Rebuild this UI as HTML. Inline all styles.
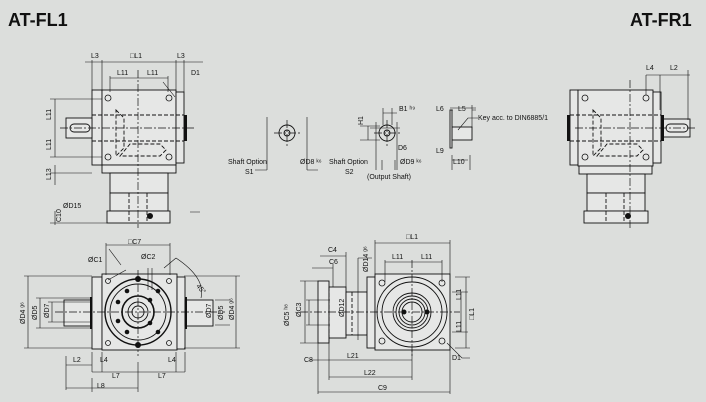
<!DOCTYPE html><html><head><style>body{margin:0;background:#dcdedc}svg{display:block}text{font-family:"Liberation Sans",sans-serif;font-size:7px;fill:#111}.t{font-size:18px;font-weight:bold}</style></head><body>
<svg width="706" height="402" viewBox="0 0 706 402" xmlns="http://www.w3.org/2000/svg">
<rect width="706" height="402" fill="#dcdedc"/>
<text x="8" y="26" class="t">AT-FL1</text><text x="630" y="26" class="t">AT-FR1</text>
<g fill="#e6e7e6" stroke="#111" stroke-width="0.9">
<rect x="92" y="90" width="10" height="75"/><rect x="102" y="90" width="74" height="75"/><rect x="176" y="92" width="8" height="71"/>
<rect x="66" y="118" width="26" height="20"/><rect x="70" y="124" width="20" height="8" rx="4"/>
<rect x="102" y="165" width="74" height="8"/><rect x="110" y="173" width="58" height="20"/><rect x="110" y="193" width="58" height="18"/><rect x="107" y="211" width="63" height="12"/>
<rect x="570" y="90" width="8" height="75"/><rect x="578" y="90" width="75" height="76"/><rect x="653" y="92" width="8" height="71"/>
<rect x="662" y="119" width="28" height="18"/><rect x="666" y="124" width="22" height="8" rx="4"/>
<rect x="579" y="166" width="73" height="8"/><rect x="587" y="174" width="58" height="19"/><rect x="587" y="193" width="58" height="18"/><rect x="584" y="211" width="64" height="12"/>
<rect x="64" y="300" width="28" height="26"/><rect x="92" y="277" width="10" height="72"/><rect x="102" y="274" width="75" height="76"/><rect x="177" y="277" width="8" height="72"/><rect x="185" y="300" width="28" height="26"/>
<rect x="318" y="281" width="11" height="62"/><rect x="329" y="287" width="17" height="51"/><rect x="346" y="292" width="21" height="43"/><rect x="367" y="277" width="8" height="71"/><rect x="375" y="274" width="75" height="76"/>
<rect x="452" y="127" width="20" height="13"/><rect x="450" y="110" width="2" height="38"/>
</g>
<g fill="#111">
<rect x="184" y="115" width="3" height="26"/><rect x="567" y="115" width="3" height="26"/><rect x="661" y="115" width="3" height="26"/>
<rect x="90" y="297" width="2" height="32"/><rect x="185" y="297" width="2" height="32"/>
<circle cx="150" cy="216" r="3"/><circle cx="628" cy="216" r="3"/>
<circle cx="138" cy="279" r="3"/><circle cx="138" cy="345" r="3"/>
<circle cx="127" cy="291" r="2.3"/><circle cx="118" cy="302" r="2.3"/><circle cx="118" cy="321" r="2.3"/><circle cx="127" cy="332" r="2.3"/><circle cx="158" cy="291" r="2.3"/><circle cx="158" cy="332" r="2.3"/><circle cx="150" cy="300" r="2.3"/><circle cx="150" cy="323" r="2.3"/>
<circle cx="404" cy="312" r="2.5"/><circle cx="427" cy="312" r="2.5"/>
</g>
<g fill="none" stroke="#111" stroke-width="0.9">
<circle cx="138" cy="312" r="33" stroke-width="1.4"/><circle cx="138" cy="312" r="28"/><circle cx="138" cy="312" r="16" stroke-width="1.6"/><circle cx="138" cy="312" r="10"/><circle cx="138" cy="312" r="6"/>
<circle cx="412" cy="312" r="35"/><circle cx="412" cy="312" r="30"/><circle cx="412" cy="312" r="19"/><circle cx="412" cy="312" r="16"/><circle cx="412" cy="312" r="13"/><circle cx="412" cy="312" r="10"/>
<circle cx="287" cy="133" r="8"/><circle cx="287" cy="133" r="3"/><circle cx="387" cy="133" r="8"/><circle cx="387" cy="133" r="3"/>
<g stroke-width="0.8">
<circle cx="108" cy="98" r="3"/><circle cx="169" cy="98" r="3"/><circle cx="108" cy="157" r="3"/><circle cx="169" cy="157" r="3"/>
<circle cx="585" cy="98" r="3"/><circle cx="646" cy="98" r="3"/><circle cx="585" cy="157" r="3"/><circle cx="646" cy="157" r="3"/>
<circle cx="382" cy="283" r="3"/><circle cx="442" cy="283" r="3"/><circle cx="382" cy="341" r="3"/><circle cx="442" cy="341" r="3"/>
<circle cx="108" cy="281" r="2.5"/><circle cx="169" cy="281" r="2.5"/><circle cx="108" cy="343" r="2.5"/><circle cx="169" cy="343" r="2.5"/>
</g>
<g stroke-dasharray="4 2">
<path d="M92 115H184M92 141H184M570 115H661M570 141H661"/>
<path d="M116 110l8 8v30l-8 8zM120 156l10-12h30l6 6-6 6z"/>
<path d="M593 110l8 8v30l-8 8zM597 156l10-12h30l6 6-6 6z"/>
<path d="M129 193v30M147 193v30M606 193v30M624 193v30M329 287v51M352 292v43"/>
</g>
<g stroke-dasharray="8 2 2 2" stroke-width="0.7">
<path d="M138 70V228M60 128H195M575 128H695M630 80V228M55 312H225M138 270V356M300 312H460M412 260V356M287 120V146M387 120V146M274 133H300M374 133H400"/>
</g>
<g stroke-width="0.6">
<path d="M85 62H203M92 60V90M102 60V90M176 60V92M184 60V92M110 78H168M110 76V92M168 76V92M50 99H102M50 157H102M55 99V157M50 173H92M55 165V185M55 211V225M50 223H107M190 212H200"/>
<path d="M646 75V95M660 75V110M688 70V120M646 75H690"/>
<path d="M106 245H170M106 243V275M170 243V275M24 276H92M24 348H92M28 276V348M36 298H90M36 328H90M40 298V328M48 302H90M48 322H90M52 302V322M184 276H240M184 348H240M236 276V348M215 300H230M215 325H230"/>
<path d="M66 356V390M92 352V372M102 352V372M176 352V372M185 352V372M66 365H92M92 372H185M66 388H138M138 362V392M92 378V392"/>
<path d="M375 243H450M375 240V274M450 240V274M385 262H442M385 260V282M442 260V282M455 277H470M455 348H470M466 277V348M452 292H468M452 332H468M461 292V332"/>
<path d="M318 343V394M329 338V380M412 350V380M320 256H346M312 268H333M346 252V287M333 264V287M300 281H318M300 343H318M305 281V343M306 300H330M306 325H330M309 300V325M358 258V340M358 258H372M310 360H329M329 360H412M329 377H412M318 392H450M450 350V394M447 343l15 15H470"/>
<path d="M267 117V170M307 117V170M255 170H267M307 170H318M376 122V170M397 122V170M370 128H378M376 128H400M368 126V140M360 126H380M360 140H380M383 113H397M383 108V125M392 108V125M395 160V170M382 160V170M450 110H453M472 110H476M450 108H476M472 105V128M452 155V170M470 155V170M452 160H468M458 130l10-12h10"/>
<path d="M163 82l12 15M126 270l-18 10M121 265l-12-16M148 268V290M152 268V290M176 258l-12 10"/>
<path d="M176 258q30 20 25 40"/>
</g>
</g>
<text x="91" y="58">L3</text><text x="130" y="58">□L1</text><text x="177" y="58">L3</text>
<text x="117" y="75">L11</text><text x="147" y="75">L11</text><text x="191" y="75">D1</text>
<text x="63" y="208">ØD15</text>
<g transform="rotate(-90)"><text x="-120" y="51">L11</text><text x="-150" y="51">L11</text><text x="-180" y="51">L13</text><text x="-222" y="61">C10</text><text x="-324" y="25">ØD4 ᵍ⁶</text><text x="-320" y="37">ØD5</text><text x="-318" y="49">ØD7</text><text x="-320" y="234">ØD4 ᵍ⁶</text><text x="-320" y="223">ØD5</text><text x="-318" y="211">ØD7</text><text x="-326" y="289">ØC5 ʰ⁸</text><text x="-317" y="301">ØC3</text><text x="-317" y="344">ØD12</text><text x="-272" y="368">ØD14 ᵍ⁶</text><text x="-125" y="363">H1</text><text x="-332" y="461">L11</text><text x="-300" y="461">L11</text><text x="-320" y="474">□L1</text></g>
<text x="646" y="70">L4</text><text x="670" y="70">L2</text>
<text x="128" y="244">□C7</text><text x="88" y="262">ØC1</text><text x="141" y="259">ØC2</text><text x="196" y="290" transform="rotate(50 200 288)">45°</text>
<text x="73" y="362">L2</text><text x="100" y="362">L4</text><text x="168" y="362">L4</text><text x="112" y="378">L7</text><text x="158" y="378">L7</text><text x="97" y="388">L8</text>
<text x="328" y="252">C4</text><text x="329" y="264">C6</text><text x="304" y="362">C8</text><text x="347" y="358">L21</text><text x="364" y="375">L22</text><text x="378" y="390">C9</text>
<text x="406" y="239">□L1</text><text x="392" y="259">L11</text><text x="421" y="259">L11</text><text x="452" y="360">D1</text>
<text x="228" y="164">Shaft Option</text><text x="245" y="174">S1</text><text x="300" y="164">ØD8 ᵏ⁶</text>
<text x="329" y="164">Shaft Option</text><text x="345" y="174">S2</text><text x="400" y="164">ØD9 ᵏ⁶</text><text x="367" y="179">(Output Shaft)</text>
<text x="399" y="111">B1 ʰ⁹</text><text x="398" y="150">D6</text>
<text x="436" y="111">L6</text><text x="458" y="111">L5</text><text x="478" y="120">Key acc. to DIN6885/1</text><text x="436" y="153">L9</text><text x="453" y="164">L10</text>
</svg></body></html>
